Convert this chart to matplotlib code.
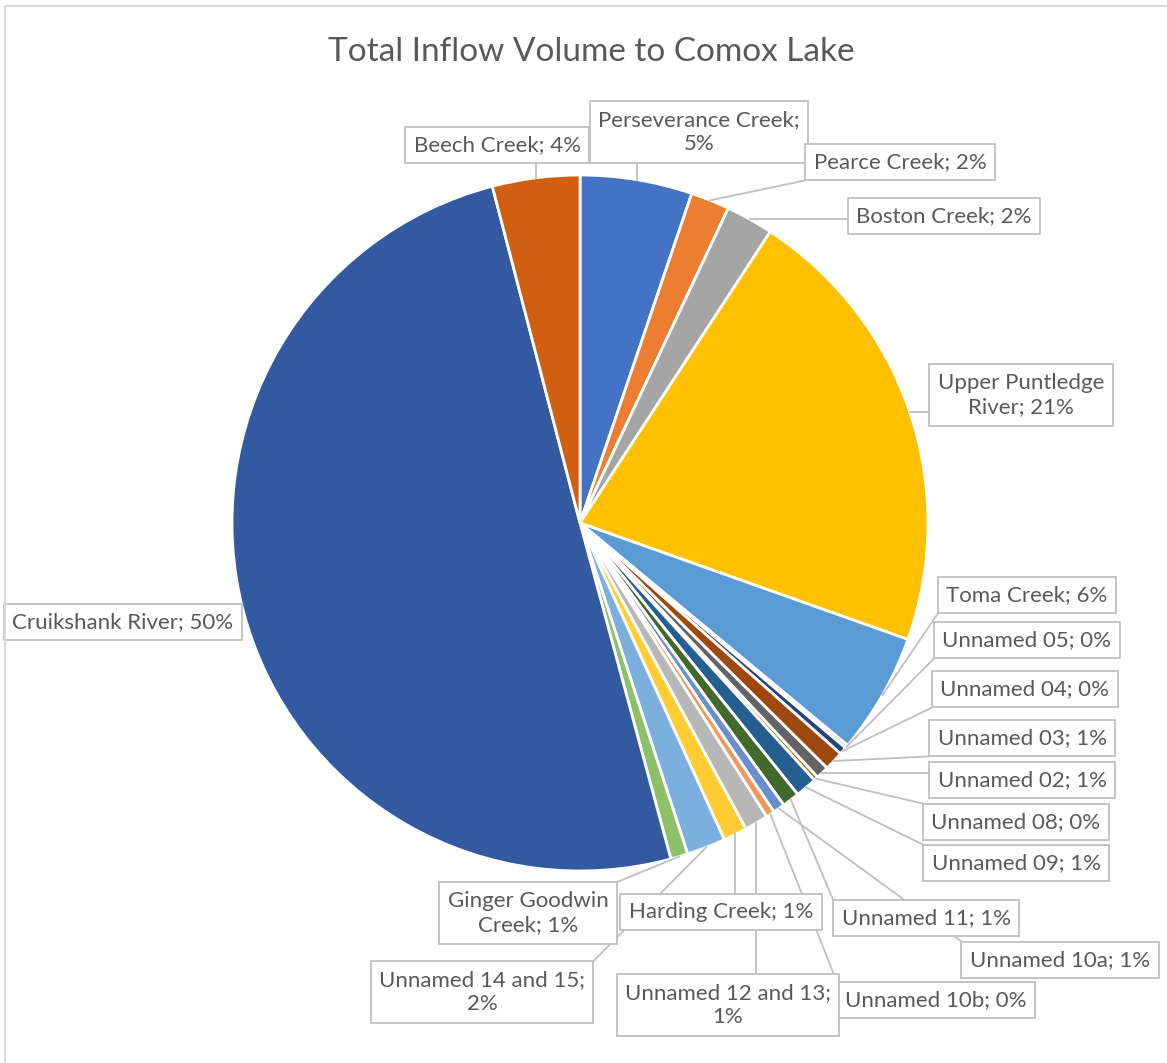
import numpy as np
import matplotlib
matplotlib.use("Agg")
import matplotlib.pyplot as plt
from matplotlib.patches import Rectangle

plt.rcParams["font.family"] = ["Lato", "DejaVu Sans"]

W, H = 1167, 1063

# inflow share of each tributary, clockwise from 12 o'clock (% of total)
names = [
    "Perseverance Creek", "Pearce Creek", "Boston Creek", "Upper Puntledge River",
    "Toma Creek", "Unnamed 05", "Unnamed 04", "Unnamed 03", "Unnamed 02",
    "Unnamed 08", "Unnamed 09", "Unnamed 11", "Unnamed 10a", "Unnamed 10b",
    "Unnamed 12 and 13", "Harding Creek", "Unnamed 14 and 15",
    "Ginger Goodwin Creek", "Cruikshank River", "Beech Creek",
]
share = [5.2, 1.8, 2.2, 21.2, 5.6, 0.15, 0.35, 0.9, 0.6, 0.2, 1.0, 0.8,
         0.55, 0.4, 1.1, 1.1, 1.8, 0.8, 50.1, 4.05]
colors = [
    "#4472C4", "#ED7D31", "#A5A5A5", "#FFC000", "#5B9BD5", "#70AD47",
    "#264478", "#9E480E", "#636363", "#997300", "#255E91", "#43682B",
    "#698ED0", "#F1975A", "#B7B7B7", "#FFCD33", "#7CAFDD", "#8CC168",
    "#3359A1", "#D05F12",
]

# two-line labels and where each label box sits (pixels from top-left)
label_text = {
    "Perseverance Creek": "Perseverance Creek;\n{}%",
    "Upper Puntledge River": "Upper Puntledge\nRiver; {}%",
    "Unnamed 12 and 13": "Unnamed 12 and 13;\n{}%",
    "Ginger Goodwin Creek": "Ginger Goodwin\nCreek; {}%",
    "Unnamed 14 and 15": "Unnamed 14 and 15;\n{}%",
}
label_pos = [
    (699, 132), (900, 162), (944, 216), (1021, 395), (1027, 595),
    (1027, 640), (1025, 689), (1022, 738), (1022, 780), (1016, 822),
    (1016, 863), (926, 918), (1060, 960), (936, 1000), (728, 1005),
    (721, 912), (482, 992), (528, 913), (123, 622), (497, 145),
]

cx, cy, r = 580, 523, 348


def px(x, y):
    return x, H - y


fig = plt.figure(figsize=(W / 100, H / 100), dpi=100)
ax = fig.add_axes([0, 0, 1, 1])

ax.pie(share, colors=colors, startangle=90, counterclock=False,
       center=px(cx, cy), radius=r,
       wedgeprops=dict(edgecolor="white", linewidth=2))
ax.set_xlim(0, W)
ax.set_ylim(0, H)
ax.set_aspect("equal")
ax.set_axis_off()

fig.patches.append(Rectangle((5 / W, -0.05), 1.1, (H - 6) / H + 0.05,
                             transform=fig.transFigure, fill=False,
                             ec="#D9D9D9", lw=1.5))

ax.text(*px(591, 52), "Total Inflow Volume to Comox Lake", ha="center",
        va="center", fontsize=24, color="#595959")

total = sum(share)
cum = np.cumsum([0] + share[:-1])
texts = []
for i, name in enumerate(names):
    pct = int(share[i] / total * 100 + 0.5)
    s = label_text.get(name, name + "; {}%").format(pct)
    t = ax.text(*px(*label_pos[i]), s, ha="center", va="center",
                fontsize=16, color="#595959", linespacing=1.3, zorder=5,
                bbox=dict(boxstyle="square,pad=0.38", fc="white",
                          ec="#BFBFBF", lw=1.3))
    texts.append(t)

# leader lines from each slice edge to the nearest point of its label box
fig.canvas.draw()
inv = ax.transData.inverted()
for i, t in enumerate(texts):
    ext = t.get_bbox_patch().get_window_extent()
    (x0, y0), (x1, y1) = inv.transform([(ext.x0, ext.y0), (ext.x1, ext.y1)])
    theta = np.deg2rad(360 * (cum[i] + share[i] / 2) / total)
    ex = cx + r * np.sin(theta)
    ey = H - (cy - r * np.cos(theta))
    bx = min(max(ex, x0), x1)
    by = min(max(ey, y0), y1)
    if (ex - bx) ** 2 + (ey - by) ** 2 < 12 ** 2:
        continue
    ax.plot([ex, bx], [ey, by], color="#BFBFBF", lw=1.3, zorder=3)

fig.savefig("out.png", dpi=100)
